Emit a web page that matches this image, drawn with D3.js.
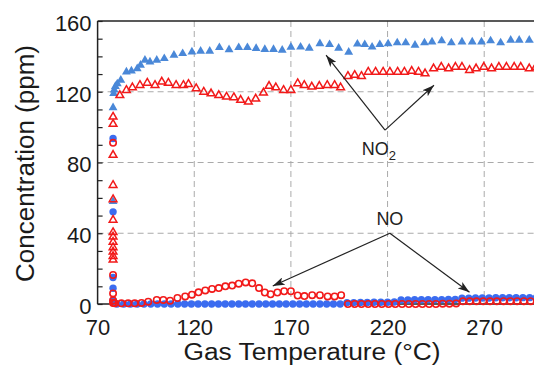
<!DOCTYPE html>
<html><head><meta charset="utf-8">
<script src="https://cdn.jsdelivr.net/npm/d3@7"></script>
<style>
html,body{margin:0;padding:0;background:#fff;}
svg{display:block;font-family:"Liberation Sans",Arial,Helvetica,sans-serif;}
</style></head><body>
<svg id="chart" width="534" height="372"></svg>
<script>
// ---- NO2, filled blue triangles ----
const no2FilledX = [78, 78, 78.3, 78.6, 79.2, 80.2, 82, 84.9, 87.5, 90.5, 92.2, 94.5, 97.1, 100.6, 104.5, 109.5, 114, 118.8, 123.3, 128, 133, 138, 143, 147.5, 152, 156.5, 161, 165.5, 170, 175, 179.5, 185, 190, 194.7, 199.9, 204.4, 208.2, 212, 216, 220.3, 225, 229.4, 234.2, 239.1, 243, 248, 253, 258.5, 263.8, 268.6, 273.3, 278.5, 283.7, 288.1, 293.3, 297.8];
const no2FilledY = [58, 111, 119, 121, 123, 124.5, 126.6, 131.2, 131.8, 133.1, 135, 137.9, 136.9, 137.9, 138.8, 140.7, 141.6, 142.5, 143, 143, 145, 143.8, 145, 145, 144.5, 143.9, 143.9, 143.5, 145.2, 145.3, 144.6, 147.2, 146.7, 144.6, 142.4, 147, 146.7, 145.3, 146.7, 147.1, 147.7, 147.7, 146.3, 147.7, 148.2, 148.8, 147.7, 148.2, 148.2, 148.2, 148.8, 147.7, 149.2, 149.2, 149.2, 149.5];
// ---- NO2, open red triangles ----
const no2OpenX = [78, 78, 78, 78, 78, 78, 78, 78, 78, 78, 78, 78, 78, 81.5, 84.9, 88, 91.9, 95.7, 99.7, 103.2, 106.6, 110.6, 114.4, 117, 121, 124.9, 128.7, 132.7, 136.7, 140.5, 144, 148, 151.8, 155.8, 158.7, 162.2, 166.2, 170, 173.5, 176.9, 180.8, 184.7, 188.8, 192.6, 195.7, 199.5, 203, 206.5, 210, 213.8, 217.7, 221.2, 225.2, 228.7, 232.5, 236, 239.4, 243.8, 247.8, 251.6, 255.1, 258.5, 262.4, 265.8, 269.8, 273.8, 277.6, 281.5, 285.5, 288.9, 293.3, 296.7];
const no2OpenY = [105.8, 101.7, 84.2, 67.2, 59.1, 47.5, 40.5, 38, 35, 32, 29.5, 27, 25, 118, 120.9, 122.4, 123.7, 125, 123.7, 125.6, 125, 123.7, 123.7, 124.3, 121.9, 119.9, 119, 118, 117.1, 116.8, 115.3, 114.3, 116, 119.4, 123.2, 122.4, 120.9, 120.9, 124.7, 123.7, 122.8, 123.2, 123.7, 123.7, 122.4, 128.8, 129.4, 128.8, 131.2, 131.2, 131.2, 131.2, 131.2, 131.2, 131.7, 131.2, 130.3, 133.1, 134, 133.1, 134, 134, 132.2, 133.1, 134, 133.1, 134, 134, 134, 134, 133.1, 134];
// ---- NO, filled blue circles ----
const noFilledX = [78, 78, 78, 78, 78, 80, 83.5, 87, 90.5, 94, 97.5, 101, 104.5, 108, 111.5, 115, 118.5, 122, 125.5, 129, 132.5, 136, 139.5, 143, 146.5, 150, 153.5, 157, 160.5, 164, 167.5, 171, 174.5, 178, 181.5, 185, 188.5, 192, 195.5, 199, 202.5, 206, 209.5, 213, 216.5, 220, 223.5, 227, 230.5, 234, 237.5, 241, 244.5, 248, 251.5, 255, 258.5, 262, 265.5, 269, 272.5, 276, 279.5, 283, 286.5, 290, 293.5, 297];
const noFilledY = [93.6, 52.1, 15, 8.9, 2, 0, 0, 0, 0, 0, 0, 0, 0, 0, 0, 0, 0, 0, 0, 0, 0, 0, 0, 0, 0, 0, 0, 0, 0, 0, 0, 0, 0, 0, 0, 0, 0, 0, 0, 0.8, 0.8, 0.9, 0.9, 1, 1, 1, 1.1, 2.3, 2.3, 2.4, 2.4, 2.5, 2.5, 2.5, 2.6, 2.6, 3.3, 3.3, 3.4, 3.4, 3.4, 3.5, 3.5, 3.5, 3.5, 3.6, 3.6, 3.6];
// ---- NO, open red circles ----
const noOpenX = [78, 78, 78, 78, 78, 78.9, 82.3, 85.8, 89.2, 92.7, 96.2, 100.6, 104, 107.5, 111.3, 115.3, 118.8, 122.2, 125.7, 129.2, 132.7, 136.1, 139.6, 143, 146.6, 150, 153.5, 156.5, 159.5, 163, 166.5, 170, 173.5, 177, 181, 185, 189, 192.6, 196, 199.5, 203, 206.5, 210, 213.5, 217, 220.5, 224, 227.5, 231, 234.5, 238, 241.5, 245, 248.5, 252, 255.5, 259, 262.5, 266, 269.5, 273, 276.5, 280, 283.5, 287, 290.5, 294, 297.5];
const noOpenY = [91.1, 16.4, 6, 2, 0.5, 0.4, 0.4, 0.4, 0.4, 0.6, 1.3, 2.3, 2.3, 1.9, 3.4, 4.3, 5.3, 6.6, 7.7, 8.5, 9, 10, 10.4, 11.5, 12.2, 11.7, 9, 6.5, 5.5, 6.5, 7.2, 7.2, 4.8, 4.5, 5, 5, 4.3, 4.3, 5, 0, 0, 0, 0, 0, 0, 0, 0, 0, 0, 0, 0, 0, 0, 0.2, 0.2, 0.3, 1.5, 1.5, 1.5, 1.5, 1.5, 1.5, 1.6, 1.6, 1.6, 1.6, 1.6, 1.6];

const xTicks = [70, 120, 170, 220, 270];
const yTicks = [0, 40, 80, 120, 160];
const yMinorTicks = [0, 10, 20, 30, 40, 50, 60, 70, 80, 90, 100, 110, 120, 130, 140, 150, 160];
const xGrid = [120, 170, 220, 270];
const yGrid = [40, 80, 120];
const xLabel = "Gas Temperature (°C)";
const yLabel = "Concentration (ppm)";

// annotation anchors (data units)
const no2Vertex = [218.7, 98.3];
const no2Tips = [[188.2, 140.7], [244, 123.7]];
const no2Text = [215.5, 84.2];
const noVertex = [221.2, 40];
const noTips = [[160.6, 10.2], [262.4, 6.6]];
const noText = [221.2, 44.6];

const svg = d3.select("#chart");
const x = d3.scaleLinear().domain([70, 300]).range([97.6, 542.2]);
const y = d3.scaleLinear().domain([0, 160]).range([304, 21]);
const L = x(70), R = 534, T = y(160), B = y(0);

// grid
svg.append("g").selectAll("line").data(xGrid).join("line")
  .attr("x1", d => x(d)).attr("x2", d => x(d)).attr("y1", T).attr("y2", B)
  .attr("stroke", "#aaa").attr("stroke-width", 1).attr("stroke-dasharray", "6,4");
svg.append("g").selectAll("line").data(yGrid).join("line")
  .attr("x1", L).attr("x2", R).attr("y1", d => y(d)).attr("y2", d => y(d))
  .attr("stroke", "#aaa").attr("stroke-width", 1).attr("stroke-dasharray", "6,4");

// frame
svg.append("line").attr("x1", L).attr("x2", R).attr("y1", T).attr("y2", T).attr("stroke", "#222").attr("stroke-width", 1.5);
svg.append("line").attr("x1", L).attr("x2", R).attr("y1", B).attr("y2", B).attr("stroke", "#222").attr("stroke-width", 1.5);
svg.append("line").attr("x1", L).attr("x2", L).attr("y1", T).attr("y2", B).attr("stroke", "#222").attr("stroke-width", 1.5);

// minor/major ticks inside on y axis
svg.append("g").attr("transform", `translate(${L},0)`)
  .call(d3.axisLeft(y).tickValues(yMinorTicks).tickSize(-5).tickFormat(""))
  .call(g => g.select(".domain").remove())
  .call(g => g.selectAll("line").attr("stroke", "#222").attr("stroke-width", 1.2));

// tick labels
svg.append("g").attr("transform", `translate(${L - 6},0)`)
  .call(d3.axisLeft(y).tickValues(yTicks).tickSize(0).tickPadding(0))
  .call(g => g.select(".domain").remove())
  .call(g => g.selectAll("text").attr("font-size", 22).attr("fill", "#1a1a1a")
     .attr("font-family", "Liberation Sans, Arial, sans-serif").attr("dy", "0.42em"));
svg.append("g").attr("transform", `translate(0,${B + 15})`)
  .call(d3.axisBottom(x).tickValues(xTicks).tickSize(0).tickPadding(0))
  .call(g => g.select(".domain").remove())
  .call(g => g.selectAll("text").attr("font-size", 22).attr("fill", "#1a1a1a")
     .attr("font-family", "Liberation Sans, Arial, sans-serif").attr("dy", "0.71em"));

// axis titles
svg.append("text").attr("x", 183.5).attr("y", 359.5).attr("text-anchor", "start")
  .attr("font-size", 23).attr("fill", "#1a1a1a")
  .attr("textLength", 257).attr("lengthAdjust", "spacingAndGlyphs").text(xLabel);
svg.append("text").attr("transform", "translate(33.5,163.5) rotate(-90)").attr("text-anchor", "middle")
  .attr("font-size", 26).attr("fill", "#1a1a1a").text(yLabel);

// series
const tri = d3.symbol().type(d3.symbolTriangle);
const blueTri = "#4a88d8", blueCirc = "#3b6cf0", red = "#f21a1a";

svg.append("g").selectAll("path").data(d3.zip(no2FilledX, no2FilledY)).join("path")
  .attr("transform", d => `translate(${x(d[0])},${y(d[1])})`)
  .attr("d", tri.size(34)()).attr("fill", blueTri);
svg.append("g").selectAll("circle").data(d3.zip(noFilledX, noFilledY)).join("circle")
  .attr("cx", d => x(d[0])).attr("cy", d => y(d[1])).attr("r", 3.7).attr("fill", blueCirc);
svg.append("g").selectAll("path").data(d3.zip(no2OpenX, no2OpenY)).join("path")
  .attr("transform", d => `translate(${x(d[0])},${y(d[1])})`)
  .attr("d", tri.size(26)()).attr("fill", "none").attr("stroke", red).attr("stroke-width", 1.5);
svg.append("g").selectAll("circle").data(d3.zip(noOpenX, noOpenY)).join("circle")
  .attr("cx", d => x(d[0])).attr("cy", d => y(d[1])).attr("r", 3.2)
  .attr("fill", "none").attr("stroke", red).attr("stroke-width", 1.6);

// arrows
const defs = svg.append("defs");
defs.append("marker").attr("id", "arr").attr("viewBox", "0 0 12 8").attr("refX", 12).attr("refY", 4)
  .attr("markerWidth", 12).attr("markerHeight", 8).attr("markerUnits", "userSpaceOnUse").attr("orient", "auto")
  .append("path").attr("d", "M0,0 L12,4 L0,8 L3,4 Z").attr("fill", "#222");
function arrows(vertex, tips) {
  tips.forEach(t => {
    svg.append("line").attr("x1", x(vertex[0])).attr("y1", y(vertex[1]))
      .attr("x2", x(t[0])).attr("y2", y(t[1]))
      .attr("stroke", "#222").attr("stroke-width", 1.2).attr("marker-end", "url(#arr)");
  });
}
arrows(no2Vertex, no2Tips);
arrows(noVertex, noTips);

const t1 = svg.append("text").attr("x", x(no2Text[0])).attr("y", y(no2Text[1])).attr("text-anchor", "middle")
  .attr("font-size", 18).attr("fill", "#222");
t1.append("tspan").text("NO");
t1.append("tspan").attr("font-size", 13).attr("dy", 5).text("2");
svg.append("text").attr("x", x(noText[0])).attr("y", y(noText[1])).attr("text-anchor", "middle")
  .attr("font-size", 18).attr("fill", "#222").text("NO");
</script>
</body></html>
